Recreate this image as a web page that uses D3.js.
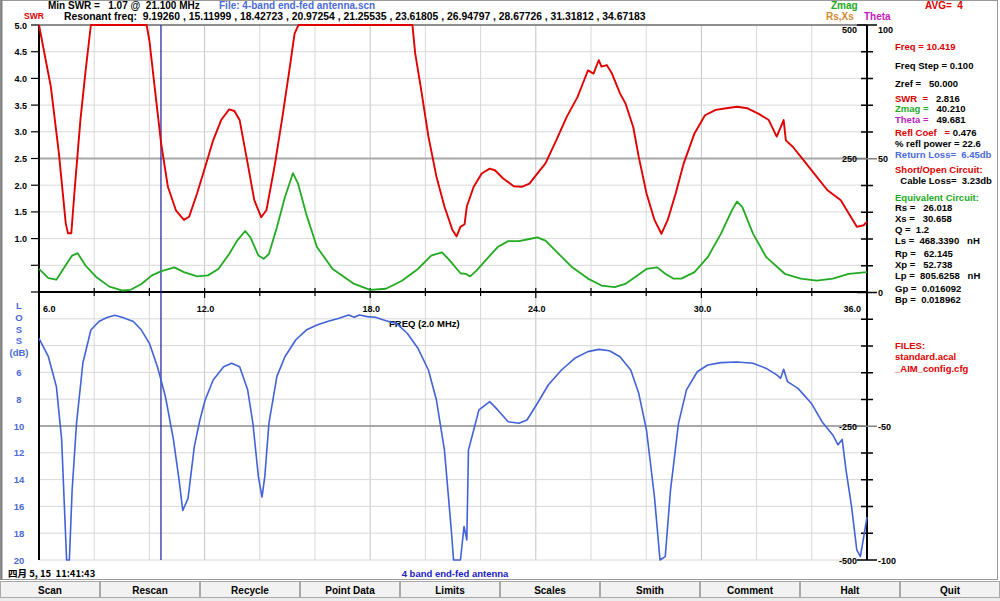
<!DOCTYPE html>
<html><head><meta charset="utf-8">
<script src="https://cdn.jsdelivr.net/npm/d3@7"></script>
<style>
html,body{margin:0;padding:0;background:#fff;}
svg{display:block;font-family:"Liberation Sans",Arial,sans-serif;font-weight:bold;}
text{white-space:pre;}
</style></head><body>
<svg id="c" width="1000" height="601"></svg>
<script>
// ---------- data ----------
const swrFreq = [6.0,6.43,6.72,6.97,7.05,7.17,7.3,7.5,7.69,7.88,9.9,10.0,10.19,10.42,10.67,10.96,11.25,11.44,11.73,12.02,12.31,12.6,12.89,13.08,13.27,13.56,13.8,14.05,14.24,14.53,14.82,15.07,15.26,15.4,19.53,19.63,19.83,20.11,20.4,20.69,20.98,21.13,21.27,21.42,21.5,21.75,22.04,22.33,22.52,22.81,23.2,23.49,23.77,24.06,24.35,24.74,25.12,25.51,25.7,25.89,26.09,26.28,26.38,26.57,26.76,27.05,27.25,27.53,27.73,28.01,28.3,28.55,28.78,29.07,29.36,29.75,30.13,30.52,30.9,31.29,31.67,32.06,32.44,32.73,32.98,33.06,33.31,33.7,34.08,34.56,35.05,35.34,35.63,35.88,36.0];
const swrVal  = [5.0,3.84,2.6,1.28,1.10,1.10,1.97,3.22,4.15,5.0,5.0,4.71,3.84,2.8,1.97,1.53,1.35,1.41,1.85,2.34,2.84,3.22,3.42,3.39,3.22,2.41,1.72,1.40,1.53,2.34,3.28,4.15,4.84,5.0,5.0,4.47,3.84,2.91,2.16,1.6,1.16,1.04,1.22,1.27,1.6,1.97,2.22,2.31,2.28,2.13,1.98,1.97,2.03,2.22,2.41,2.84,3.28,3.65,3.9,4.15,4.09,4.34,4.22,4.25,4.09,3.72,3.53,3.09,2.53,1.85,1.35,1.09,1.35,1.85,2.41,2.97,3.31,3.41,3.44,3.47,3.44,3.34,3.22,2.91,3.22,2.84,2.72,2.47,2.22,1.91,1.72,1.47,1.22,1.25,1.32];

const zmagFreq = [6.0,6.34,6.63,6.92,7.2,7.4,7.69,8.07,8.55,9.03,9.32,9.71,10.09,10.44,10.9,11.25,11.73,12.12,12.5,12.89,13.18,13.47,13.66,13.95,14.14,14.33,14.62,14.91,15.2,15.39,15.68,16.07,16.64,17.42,18.0,18.57,19.15,19.73,20.21,20.6,20.88,21.27,21.46,21.62,21.85,22.23,22.62,23.0,23.39,23.77,24.06,24.35,24.83,25.32,25.89,26.38,26.86,27.24,27.63,28.01,28.4,28.69,28.98,29.27,29.75,30.23,30.71,31.1,31.29,31.48,31.87,32.35,33.02,33.6,34.18,34.76,35.34,36.0];
const zmagVal  = [44,27,24,47,69,73.5,50,29,11,3.7,5,16,32,40,47,38,30,32,44,72,97,115,103,69,63,72,122,178,223,203,147,85,44,16,5,7,22,44,69,75,60,36,35,30,41,63,85,96,96,100,103,97,72,47,26,13,10,16,30,44,47,35,26,26,38,66,110,153,170,160,110,66,35,26,22,26,35,38];

const lossFreq = [6.0,6.34,6.63,6.82,6.92,7.0,7.1,7.2,7.36,7.59,7.88,8.17,8.46,8.75,9.03,9.42,9.71,10.0,10.29,10.58,10.87,11.06,11.21,11.4,11.63,11.83,12.02,12.31,12.69,12.98,13.27,13.56,13.75,13.95,14.08,14.18,14.33,14.62,14.91,15.3,15.68,16.07,16.45,16.84,17.22,17.42,17.61,17.9,18.19,18.57,18.95,19.34,19.73,20.11,20.4,20.69,20.94,21.02,21.27,21.4,21.5,21.56,21.75,21.94,22.33,22.62,23.0,23.39,23.68,24.06,24.45,24.93,25.41,25.89,26.28,26.67,27.05,27.44,27.73,28.01,28.3,28.5,28.69,28.88,29.17,29.46,29.85,30.23,30.71,31.29,31.87,32.35,32.73,32.87,32.98,33.12,33.5,33.98,34.37,34.76,34.95,35.1,35.24,35.44,35.63,35.76,35.88,36.0];
const lossVal  = [3.46,4.83,7.06,11.0,16,20,20,14.8,9.8,5.3,2.84,2.2,1.9,1.74,1.9,2.2,2.84,3.83,5.57,7.8,11.0,13.8,16.3,15.4,11.5,9.55,8.06,6.57,5.57,5.32,5.57,7.3,9.8,13.8,15.3,13.8,9.8,6.3,4.83,3.58,2.84,2.46,2.2,1.97,1.72,1.89,1.72,1.84,1.89,2.14,2.34,3.08,4.2,5.82,8.06,11.8,17.8,20,20,17.5,18.5,11.8,10.3,8.8,8.18,8.8,9.68,9.8,9.55,8.3,6.94,5.82,4.95,4.45,4.28,4.38,4.83,5.82,7.56,10.3,15.3,20,19.75,14.8,9.8,7.3,5.95,5.45,5.27,5.22,5.32,5.7,6.19,6.44,5.77,6.69,7.19,8.3,9.68,10.67,11.4,11.0,13.3,16,19.25,19.75,18.3,16.8];

const markerFreq = 10.419;
const xTickLabels = ["6.0","12.0","18.0","24.0","30.0","36.0"];
const swrTickLabels = ["5.0","4.5","4.0","3.5","3.0","2.5","2.0","1.5","1.0"];
const lossTickLabels = ["6","8","10","12","14","16","18","20"];
const zTickLabels = ["500","250","-250","-500"];
const thetaTickLabels = ["100","50","0","-50","-100"];
const buttons = ["Scan","Rescan","Recycle","Point Data","Limits","Scales","Smith","Comment","Halt","Quit"];
const resonant = ["9.19260","15.11999","18.42723","20.97254","21.25535","23.61805","26.94797","28.67726","31.31812","34.67183"];

// ---------- scales ----------
const L = 39, R = 867, T = 25, M = 292, B = 560;
const x = d3.scaleLinear().domain([6,36]).range([L,R]);
const ySwr = d3.scaleLinear().domain([0,5]).range([M,T]);
const yLoss = d3.scaleLinear().domain([0,20]).range([M,B]);
const yZ = d3.scaleLinear().domain([-500,500]).range([B,T]);
const yTh = d3.scaleLinear().domain([-100,100]).range([B,T]);

const svg = d3.select("#c");
const RED="#e00000", GREEN="#22aa22", BLUE="#4262d8", LBLUE="#4a6ad8";

// window frame
svg.append("rect").attr("x",0.5).attr("y",0.5).attr("width",997).attr("height",579).attr("fill","#fff").attr("stroke","#9a9a9a");
svg.append("line").attr("x1",1.5).attr("x2",1.5).attr("y1",0).attr("y2",580).attr("stroke","#808080").attr("stroke-width",2);

// gridlines
const g = svg.append("g");
d3.range(6,36.01,2).forEach(f=>{
  const major = Math.abs((f-6)%6)<1e-6;
  g.append("line").attr("x1",x(f)).attr("x2",x(f)).attr("y1",T).attr("y2",B)
   .attr("stroke", major?"#c4c4c4":"#d8d8d8").attr("stroke-width",1);
});
d3.range(0.5,5.01,0.5).forEach(v=>{
  g.append("line").attr("x1",L).attr("x2",R).attr("y1",ySwr(v)).attr("y2",ySwr(v))
   .attr("stroke", v===2.5?"#a8a8a8":"#d8d8d8").attr("stroke-width", v===2.5?2:1);
});
d3.range(2,20.01,2).forEach(v=>{
  g.append("line").attr("x1",L).attr("x2",R).attr("y1",yLoss(v)).attr("y2",yLoss(v))
   .attr("stroke", v===10?"#a8a8a8":"#d8d8d8").attr("stroke-width", v===10?2:1);
});
g.append("line").attr("x1",L).attr("x2",R).attr("y1",T).attr("y2",T).attr("stroke","#707070").attr("stroke-width",1.5);

// axes lines
svg.append("line").attr("x1",L).attr("x2",L).attr("y1",T).attr("y2",B).attr("stroke","#000").attr("stroke-width",2);
svg.append("line").attr("x1",R).attr("x2",R).attr("y1",T).attr("y2",B).attr("stroke","#000").attr("stroke-width",2);
svg.append("line").attr("x1",L).attr("x2",R).attr("y1",M).attr("y2",M).attr("stroke","#000").attr("stroke-width",2);

// middle freq ticks
d3.range(6,36.01,2).forEach(f=>{
  const major = Math.abs((f-6)%6)<1e-6;
  svg.append("line").attr("x1",x(f)).attr("x2",x(f)).attr("y1",M-4).attr("y2",M+(major?6:4)).attr("stroke","#000").attr("stroke-width",1.2);
});
// left ticks upper
d3.range(0,5.01,0.5).forEach(v=>{
  svg.append("line").attr("x1",L-8).attr("x2",L).attr("y1",ySwr(v)).attr("y2",ySwr(v)).attr("stroke","#000").attr("stroke-width",1.2);
});
// right ticks
d3.range(-500,500.01,50).forEach(v=>{
  const lab = (v%250===0);
  svg.append("line").attr("x1",R-(lab?10:6)).attr("x2",R+(lab?10:6)).attr("y1",yZ(v)).attr("y2",yZ(v))
   .attr("stroke", lab && v!==0 && Math.abs(v)!==500 ? "#808080":"#000").attr("stroke-width",1.5);
});

// left labels
swrTickLabels.forEach(t=>{
  svg.append("text").attr("x",27).attr("y",ySwr(+t)+3.5).attr("text-anchor","end").attr("font-size",9).text(t);
});
["L","O","S","S","(dB)"].forEach((t,i)=>{
  svg.append("text").attr("x",19).attr("y",309+i*11.8).attr("text-anchor","middle").attr("font-size",9.5).attr("fill",LBLUE).text(t);
});
lossTickLabels.forEach(t=>{
  svg.append("text").attr("x",19).attr("y",yLoss(+t)+3.5).attr("text-anchor","middle").attr("font-size",9.5).attr("fill",LBLUE).text(t);
});
// x labels
xTickLabels.forEach((t,i)=>{
  const f=+t;
  const anchor = i===0?"start":(i===xTickLabels.length-1?"end":"middle");
  const dx = i===0?4:(i===xTickLabels.length-1?-6:1);
  svg.append("text").attr("x",x(f)+dx).attr("y",M+20).attr("text-anchor",anchor).attr("font-size",9).text(t);
});
svg.append("text").attr("x",389).attr("y",M+35).attr("font-size",9.5).text("FREQ (2.0 MHz)");

// right labels
zTickLabels.forEach(t=>{
  svg.append("text").attr("x",857).attr("y",yZ(+t)+(+t===500?8:3.5)).attr("text-anchor","end").attr("font-size",9).text(t);
});
thetaTickLabels.forEach(t=>{
  svg.append("text").attr("x",878).attr("y",yTh(+t)+(+t===100?8:3.5)).attr("font-size",9).text(t);
});

// marker line
svg.append("line").attr("x1",x(markerFreq)).attr("x2",x(markerFreq)).attr("y1",T).attr("y2",B).attr("stroke","#1a1aa0").attr("stroke-width",1.2);

// curves
const lineSwr = d3.line().x((d,i)=>x(swrFreq[i])).y(d=>ySwr(d));
const lineZ = d3.line().x((d,i)=>x(zmagFreq[i])).y(d=>yZ(d));
const lineL = d3.line().x((d,i)=>x(lossFreq[i])).y(d=>yLoss(d));
svg.append("path").attr("d",lineZ(zmagVal)).attr("fill","none").attr("stroke",GREEN).attr("stroke-width",1.8).attr("stroke-linejoin","round");
svg.append("path").attr("d",lineSwr(swrVal)).attr("fill","none").attr("stroke",RED).attr("stroke-width",1.9).attr("stroke-linejoin","round");
svg.append("path").attr("d",lineL(lossVal)).attr("fill","none").attr("stroke",BLUE).attr("stroke-width",1.6).attr("stroke-linejoin","round");

// header
const h = svg.append("g").attr("font-size",10);
h.append("text").attr("x",48).attr("y",9).text("Min SWR =   1.07 @  21.100 MHz");
h.append("text").attr("x",219).attr("y",9).attr("fill","#4a6ad8").text("File: 4-band end-fed antenna.scn");
h.append("text").attr("x",24).attr("y",19).attr("fill",RED).attr("font-size",8.5).text("SWR");
h.append("text").attr("x",64).attr("y",20).attr("font-size",10.35).text("Resonant freq:  " + resonant.join(" , "));
h.append("text").attr("x",831).attr("y",9).attr("fill",GREEN).text("Zmag");
h.append("text").attr("x",826).attr("y",20).attr("fill","#d08a30").text("Rs,Xs");
h.append("text").attr("x",864).attr("y",20).attr("fill","#c020c0").text("Theta");
h.append("text").attr("x",925).attr("y",9).attr("fill",RED).text("AVG=  4");

// right info panel
const info = [
  [50,[["Freq = 10.419",RED]]],
  [69,[["Freq Step = 0.100","#000"]]],
  [87,[["Zref =   50.000","#000"]]],
  [102,[["SWR  =   ",RED],["2.816","#000"]]],
  [112,[["Zmag =   ",GREEN],["40.210","#000"]]],
  [123,[["Theta =   ","#c020c0"],["49.681","#000"]]],
  [136,[["Refl Coef   = ",RED],["0.476","#000"]]],
  [147,[["% refl power = 22.6","#000"]]],
  [158,[["Return Loss=  6.45db",LBLUE]]],
  [173,[["Short/Open Circuit:",RED]]],
  [184,[["  Cable Loss=  3.23db","#000"]]],
  [201,[["Equivalent Circuit:",GREEN]]],
  [211,[["Rs =   26.018","#000"]]],
  [222,[["Xs =   30.658","#000"]]],
  [233,[["Q =  1.2","#000"]]],
  [244,[["Ls =  468.3390   nH","#000"]]],
  [257,[["Rp =   62.145","#000"]]],
  [268,[["Xp =   52.738","#000"]]],
  [279,[["Lp =  805.6258   nH","#000"]]],
  [292,[["Gp =  0.016092","#000"]]],
  [303,[["Bp =  0.018962","#000"]]],
  [349,[["FILES:",RED]]],
  [360,[["standard.acal",RED]]],
  [372,[["_AIM_config.cfg",RED]]]
];
info.forEach(([yy,parts])=>{
  const t = svg.append("text").attr("x",895).attr("y",yy).attr("font-size",9.5);
  parts.forEach(([s,c])=>t.append("tspan").attr("fill",c).text(s));
});

// bottom status
svg.append("text").attr("x",8).attr("y",577).attr("font-size",9.5)
  .attr("font-family","'Noto Sans CJK SC','Liberation Sans',sans-serif").text("四月 5, 15  11:41:43");
svg.append("text").attr("x",455).attr("y",577).attr("text-anchor","middle").attr("font-size",9.5).attr("fill","#2020c0").text("4 band end-fed antenna");

// buttons
const bx = d3.scaleBand().domain(buttons).range([0,1000]);
const bg = svg.append("g");
bg.append("rect").attr("x",0).attr("y",581).attr("width",1000).attr("height",20).attr("fill","#ececec");
buttons.forEach(b=>{
  bg.append("rect").attr("x",bx(b)+0.5).attr("y",581.5).attr("width",bx.bandwidth()-1).attr("height",16).attr("fill","#f2f2f2").attr("stroke","#a8a8a8");
  bg.append("text").attr("x",bx(b)+bx.bandwidth()/2).attr("y",593.5).attr("text-anchor","middle").attr("font-size",10).text(b);
});
</script></body></html>
